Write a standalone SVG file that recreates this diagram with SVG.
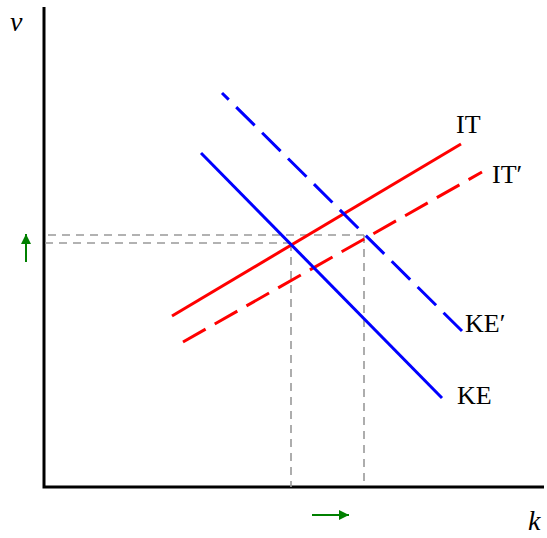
<svg xmlns="http://www.w3.org/2000/svg" width="547" height="538" viewBox="0 0 547 538">
<defs>
<style>
.axis{stroke:#000;stroke-width:3;fill:none}
.guide{stroke:#999;stroke-width:1.6;stroke-dasharray:8 6;fill:none}
.it{stroke:#f00;stroke-width:3;fill:none}
.ke{stroke:#00f;stroke-width:3;fill:none}
.dash{stroke-dasharray:26 10.5}
.lbl{font-family:"Liberation Serif","Times New Roman",serif;font-size:26px;fill:#000}
.ax{font-family:"Liberation Serif","Times New Roman",serif;font-size:28px;font-style:italic;fill:#000}
.shift{stroke:#008000;stroke-width:2;fill:none}
</style>
<marker id="ga" viewBox="0 0 10 10" refX="10" refY="5" markerWidth="10" markerHeight="10" markerUnits="userSpaceOnUse" orient="auto">
<path d="M0,0 L10,5 L0,10 Z" fill="#008000"/>
</marker>
</defs>
<g id="axes">
<path class="axis" d="M44,7 V487 H544"/>
<text class="ax" x="10" y="31">v</text>
<text class="ax" x="528" y="530">k</text>
</g>
<g id="guides">
<path class="guide" d="M364,235 H44"/>
<path class="guide" d="M291,243 H44"/>
<path class="guide" d="M291,243 V487"/>
<path class="guide" d="M364,235 V487"/>
</g>
<g id="connectors">
<path id="IT-line" class="it" d="M172,316 L461,144"/>
<path id="ITp-line" class="it dash" d="M183,342 L482,172"/>
<path id="KE-line" class="ke" d="M201,153 L442,398"/>
<path id="KEp-line" class="ke dash" d="M462,331 L222,93"/>
</g>
<g id="IT"><text class="lbl" x="456" y="133">IT</text></g>
<g id="ITp"><text class="lbl" x="492" y="183">IT′</text></g>
<g id="KEp"><text class="lbl" x="465" y="332">KE′</text></g>
<g id="KE"><text class="lbl" x="457" y="404">KE</text></g>
<g id="shifts">
<path class="shift" d="M26,262 V234" marker-end="url(#ga)"/>
<path class="shift" d="M312,515 H349" marker-end="url(#ga)"/>
</g>
</svg>
